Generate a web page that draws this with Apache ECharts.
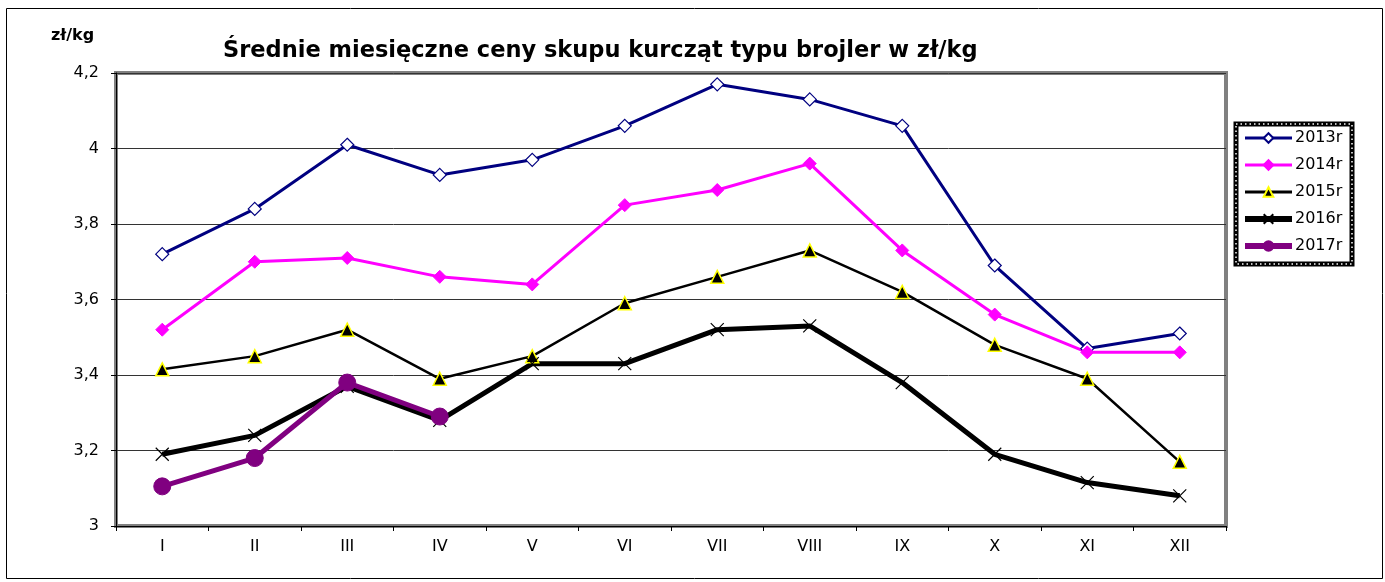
<!DOCTYPE html>
<html>
<head>
<meta charset="utf-8">
<script src="https://cdn.jsdelivr.net/npm/echarts@6/dist/echarts.min.js"></script>
<style>
  html, body { margin: 0; padding: 0; background: #fff; }
  #chart { width: 1385px; height: 582px; }
</style>
</head>
<body>
<div id="chart"></div>
<script>
// miesiące
const months = ['I', 'II', 'III', 'IV', 'V', 'VI', 'VII', 'VIII', 'IX', 'X', 'XI', 'XII'];
// ceny w zł/kg
const y2013 = [3.72, 3.84, 4.01, 3.93, 3.97, 4.06, 4.17, 4.13, 4.06, 3.69, 3.47, 3.51];
const y2014 = [3.52, 3.70, 3.71, 3.66, 3.64, 3.85, 3.89, 3.96, 3.73, 3.56, 3.46, 3.46];
const y2015 = [3.415, 3.45, 3.52, 3.39, 3.45, 3.59, 3.66, 3.73, 3.62, 3.48, 3.39, 3.17];
const y2016 = [3.19, 3.24, 3.37, 3.28, 3.43, 3.43, 3.52, 3.53, 3.38, 3.19, 3.115, 3.08];
const y2017 = [3.105, 3.18, 3.38, 3.29, null, null, null, null, null, null, null, null];

// tekst w oryginale jest rozciągnięty w poziomie - DejaVu jest szersza od Ariala
const FONT = '"DejaVu Sans", Arial, sans-serif';
const CROSS = 'path://M0,0L10,10M10,0L0,10';

const chart = echarts.init(document.getElementById('chart'));

chart.setOption({
  animation: false,
  textStyle: { fontFamily: FONT },
  title: [
    {
      text: 'Średnie miesięczne ceny skupu kurcząt typu brojler w zł/kg',
      left: 218,
      top: 35,
      textStyle: { fontSize: 22.5, fontWeight: 'bold', color: '#000', fontFamily: FONT }
    },
    {
      text: 'zł/kg',
      left: 46,
      top: 23,
      textStyle: { fontSize: 16, fontWeight: 'bold', color: '#000', fontFamily: FONT }
    }
  ],
  grid: {
    left: 116,
    right: 159,
    top: 73,
    bottom: 56,
    show: true,
    borderColor: '#808080',
    borderWidth: 4
  },
  legend: {
    orient: 'vertical',
    left: 1242,
    top: 130,
    itemWidth: 47,
    itemHeight: 12,
    itemGap: 11,
    padding: 0,
    textStyle: { fontSize: 16, color: '#000', fontFamily: FONT, padding: [0, 0, 0, -2] },
    data: [
      { name: '2013r', lineStyle: { width: 3 } },
      { name: '2014r', lineStyle: { width: 3 } },
      { name: '2015r', lineStyle: { width: 3 } },
      { name: '2016r', lineStyle: { width: 6 } },
      { name: '2017r', lineStyle: { width: 6 } }
    ]
  },
  xAxis: {
    type: 'category',
    data: months,
    axisLine: { lineStyle: { color: '#000', width: 1 } },
    axisTick: { show: true, length: 5, lineStyle: { color: '#000' } },
    axisLabel: { fontSize: 16, color: '#000', margin: 13, fontFamily: FONT }
  },
  yAxis: {
    type: 'value',
    min: 3,
    max: 4.2,
    interval: 0.2,
    axisLine: { show: true, lineStyle: { color: '#000', width: 1 } },
    axisTick: { show: true, length: 5, lineStyle: { color: '#000' } },
    axisLabel: {
      fontSize: 16,
      color: '#000',
      margin: 17,
      fontFamily: FONT,
      formatter: v => String(Math.round(v * 10) / 10).replace('.', ',')
    },
    splitLine: { lineStyle: { color: '#333', width: 1 } }
  },
  graphic: [
    {
      type: 'rect',
      shape: { x: 6.5, y: 8.5, width: 1376, height: 570 },
      style: { fill: 'none', stroke: '#000', lineWidth: 1 },
      silent: true,
      z: -1
    },
    {
      type: 'rect',
      shape: { x: 1236, y: 124, width: 116, height: 140 },
      style: { fill: 'none', stroke: '#000', lineWidth: 5 },
      silent: true
    },
    {
      type: 'rect',
      shape: { x: 1236, y: 124, width: 116, height: 140 },
      style: { fill: 'none', stroke: '#fff', lineWidth: 1.5, lineDash: [1.5, 3] },
      silent: true
    }
  ],
  series: [
    {
      name: '2013r',
      type: 'line',
      data: y2013,
      symbol: 'diamond',
      symbolSize: 13,
      lineStyle: { color: '#000080', width: 3 },
      itemStyle: { color: '#fff', borderColor: '#000080', borderWidth: 1.2 }
    },
    {
      name: '2014r',
      type: 'line',
      data: y2014,
      symbol: 'diamond',
      symbolSize: 13,
      lineStyle: { color: '#ff00ff', width: 3 },
      itemStyle: { color: '#ff00ff', borderColor: '#ff00ff', borderWidth: 1 }
    },
    {
      name: '2015r',
      type: 'line',
      data: y2015,
      symbol: 'triangle',
      symbolSize: 13,
      lineStyle: { color: '#000', width: 2.5 },
      itemStyle: { color: '#000', borderColor: '#ffff00', borderWidth: 1.5 }
    },
    {
      name: '2016r',
      type: 'line',
      data: y2016,
      symbol: CROSS,
      symbolSize: 13,
      lineStyle: { color: '#000', width: 5 },
      itemStyle: { color: 'none', borderColor: '#000', borderWidth: 1.2 }
    },
    {
      name: '2017r',
      type: 'line',
      data: y2017,
      symbol: 'circle',
      symbolSize: 17,
      connectNulls: false,
      lineStyle: { color: '#800080', width: 5 },
      itemStyle: { color: '#800080', borderColor: '#800080', borderWidth: 1 }
    }
  ]
});
</script>
</body>
</html>
